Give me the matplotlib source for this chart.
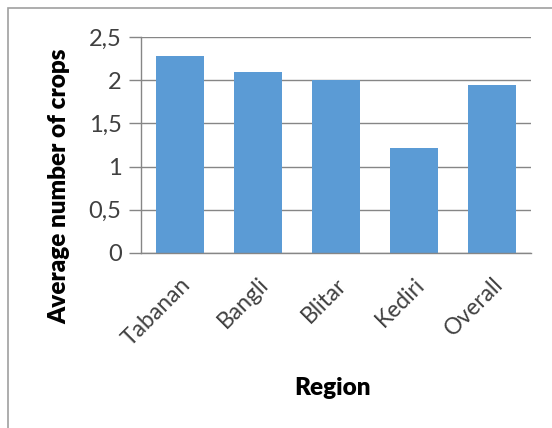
import matplotlib
matplotlib.use("Agg")
import matplotlib.pyplot as plt
from matplotlib.patches import Rectangle

regions = ["Tabanan", "Bangli", "Blitar", "Kediri", "Overall"]
avg_crops = [2.28, 2.10, 2.00, 1.21, 1.95]
y_ticks = [0, 0.5, 1, 1.5, 2, 2.5]
y_tick_labels = ["0", "0,5", "1", "1,5", "2", "2,5"]

plt.rcParams["font.family"] = ["Lato", "DejaVu Sans"]

fig = plt.figure(figsize=(5.52, 4.28), dpi=100)
ax = fig.add_axes([0.2554, 0.4089, 0.7066, 0.5047])

# outer chart border (clipped on right/bottom like the reference)
fig.patches.append(Rectangle((8 / 552, -0.1), 1.2, 1 - 8 / 428 + 0.1,
                             transform=fig.transFigure, fill=False,
                             edgecolor="#a0a0a0", linewidth=1.2))

ax.set_axisbelow(True)
ax.bar(range(len(regions)), avg_crops, width=0.62, color="#5b9bd5")

ax.set_xlim(-0.5, len(regions) - 0.5)
ax.set_ylim(0, 2.5)
ax.set_yticks(y_ticks)
ax.set_yticklabels(y_tick_labels, fontsize=17, color="#404040")
ax.set_xticks(range(len(regions)))
ax.set_xticklabels(regions, rotation=45, ha="right", rotation_mode="anchor",
                   fontsize=16.5, color="#404040")

ax.tick_params(axis="x", length=0, pad=15)
ax.tick_params(axis="y", length=9, width=1, color="#868686", pad=5)

ax.grid(True, axis="y", color="#868686", linewidth=1)
for side in ["top", "right"]:
    ax.spines[side].set_visible(False)
for side in ["left", "bottom"]:
    ax.spines[side].set_color("#868686")
    ax.spines[side].set_linewidth(1)

ax.set_ylabel("Average number of crops", fontsize=17.5, fontweight="heavy")
ax.yaxis.set_label_coords(-0.182, 0.31)
ax.set_xlabel("Region", fontsize=17.5, fontweight="heavy")
ax.xaxis.set_label_coords(0.49, -0.575)

fig.savefig("out.png", dpi=100)
plt.close(fig)
